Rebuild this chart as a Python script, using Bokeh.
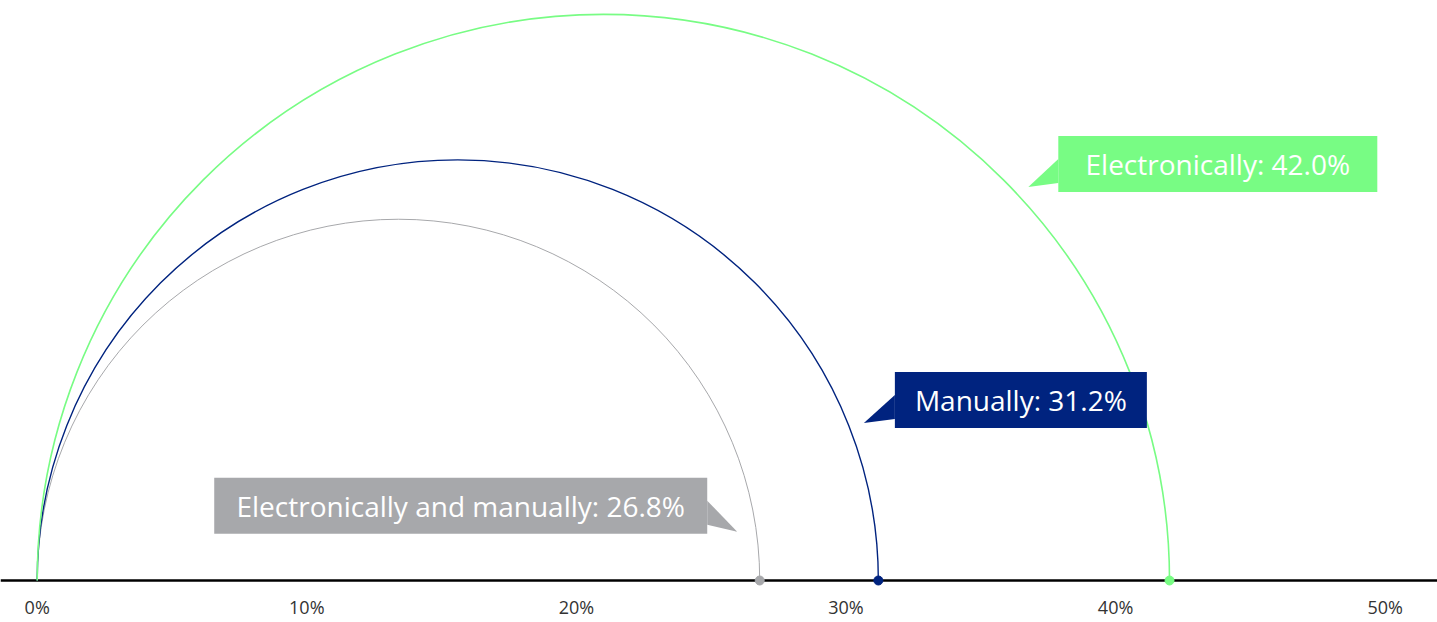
import math
from bokeh.plotting import figure
from bokeh.models import Range1d, FixedTicker, CustomJSTickFormatter
from bokeh.core.properties import value
from bokeh.embed import file_html
from bokeh.resources import INLINE

# Share of respondents by the way they process documents
categories = ["Electronically and manually", "Manually", "Electronically"]
shares = [26.8, 31.2, 42.0]
tick_values = [0, 10, 20, 30, 40, 50]
tick_labels = ["0%", "10%", "20%", "30%", "40%", "50%"]

colors = ["#a7a8ab", "#00237f", "#78fc84"]
arc_widths = [1.0, 1.4, 1.6]

W, H = 1437, 622
FRAME_H = 586
PX_PER_UNIT = 26.96          # pixels per percentage point on both axes
ORIGIN_PX = 36.7             # pixel column of 0%
BASE_PX = 580.0              # pixel row of the baseline

x0 = -ORIGIN_PX / PX_PER_UNIT
x1 = (W - ORIGIN_PX) / PX_PER_UNIT
y0 = -(FRAME_H - BASE_PX) / PX_PER_UNIT
y1 = BASE_PX / PX_PER_UNIT

p = figure(width=W, height=H, x_range=Range1d(x0, x1), y_range=Range1d(y0, y1),
           output_backend="svg", toolbar_location=None, min_border=0,
           min_border_left=0, min_border_right=0, min_border_top=0,
           min_border_bottom=H - FRAME_H)
p.outline_line_color = None
p.grid.visible = False
p.yaxis.visible = False
p.background_fill_color = "white"
p.border_fill_color = "white"

ax = p.xaxis[0]
ax.ticker = FixedTicker(ticks=tick_values)
ax.formatter = CustomJSTickFormatter(args=dict(labels=dict(zip([str(t) for t in tick_values], tick_labels))),
                                     code="return labels[String(tick)] || '';")
ax.axis_line_color = None
ax.major_tick_line_color = None
ax.minor_tick_line_color = None
ax.major_tick_out = 0
ax.major_label_standoff = 8
ax.major_label_text_font = "Open Sans"
ax.major_label_text_font_size = "18px"
ax.major_label_text_color = "#333333"

# baseline
p.segment(x0=[x0], y0=[0], x1=[x1], y1=[0], line_color="#000000", line_width=2.4)

# semicircles spanning 0 .. share
for s, c, lw in zip(shares, colors, arc_widths):
    p.arc(x=[s / 2], y=[0], radius=s / 2, start_angle=0, end_angle=math.pi,
          direction="anticlock", line_color=c, line_width=lw)

p.scatter(x=shares, y=[0] * len(shares), size=9, fill_color=colors, line_color=colors)

# callouts: pointer tip placed at an angle on each arc, box beside it
u = 1.0 / PX_PER_UNIT
callouts = [
    # angle (deg), radial offset px, side, box width px, tip->box gap px, box centre above tip px
    dict(angle=8.2, off=-19, side="left", bw=493, gap=30, rise=26),
    dict(angle=21.2, off=15, side="right", bw=252, gap=31, rise=23),
    dict(angle=42.8, off=13, side="right", bw=319, gap=30, rise=23),
]
BOX_H = 56
for cat, s, c, co in zip(categories, shares, colors, callouts):
    r = s / 2 + co["off"] * u
    a = math.radians(co["angle"])
    tx = s / 2 + r * math.cos(a)
    ty = r * math.sin(a)
    cy = ty + co["rise"] * u
    if co["side"] == "right":
        left = tx + co["gap"] * u
        right = left + co["bw"] * u
        edge = left
    else:
        right = tx - co["gap"] * u
        left = right - co["bw"] * u
        edge = right
    top = cy + BOX_H / 2 * u
    bottom = cy - BOX_H / 2 * u
    p.quad(left=[left], right=[right], top=[top], bottom=[bottom],
           fill_color=c, line_color=None)
    p.patch(x=[tx, edge, edge], y=[ty, cy + 5 * u, cy - 19 * u],
            fill_color=c, line_color=None)
    p.text(x=[(left + right) / 2], y=[cy], text=[f"{cat}: {s:.1f}%"],
           text_align="center", text_baseline="middle",
           text_font=value("Open Sans"), text_font_size="28px",
           text_color="#ffffff")

open("out.html", "w").write(file_html(p, INLINE))
